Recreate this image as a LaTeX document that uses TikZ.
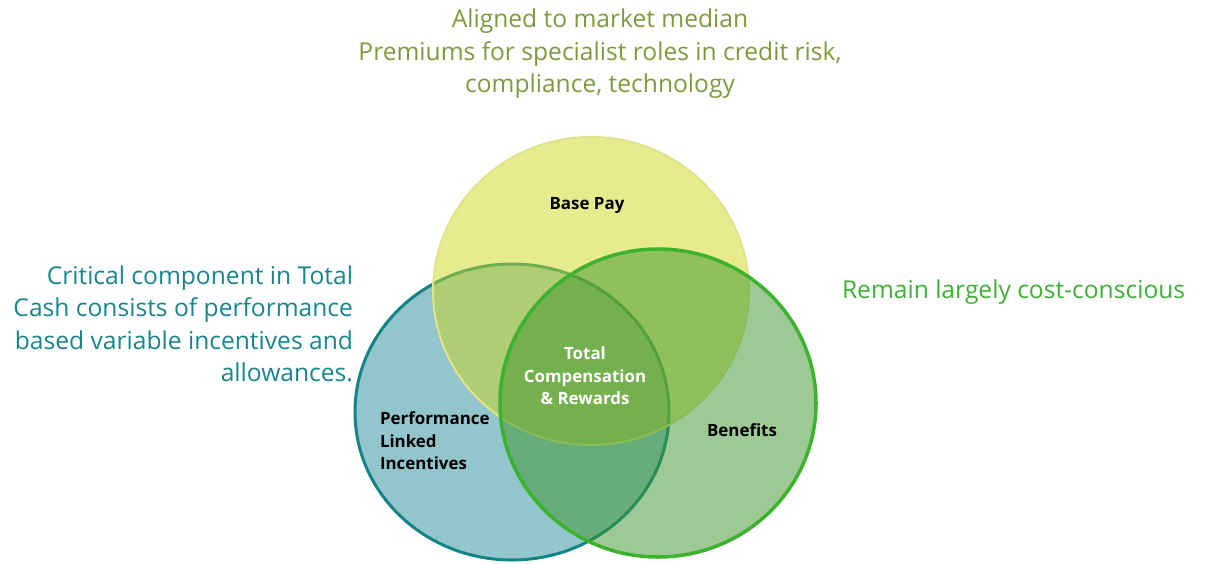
\documentclass[tikz,border=0pt]{standalone}
\usepackage{fontspec}
\setmainfont{Open Sans}
\definecolor{perfFill}{HTML}{278D99}
\definecolor{perfLine}{HTML}{158489}
\definecolor{baseFill}{HTML}{CDD71D}
\definecolor{baseLine}{HTML}{DFE38B}
\definecolor{benFill}{HTML}{3B9529}
\definecolor{benLine}{HTML}{3DB22F}
\definecolor{oliveTxt}{HTML}{7E9A3C}
\definecolor{tealTxt}{HTML}{17868C}
\definecolor{greenTxt}{HTML}{3DB134}
\begin{document}
\begin{tikzpicture}[x=1pt,y=-1pt,
  every node/.style={inner sep=0pt, outer sep=0pt},
  note/.style={font=\fontsize{24.6}{32.5}\selectfont},
  lbl/.style={font=\bfseries\fontsize{16.9}{22.5}\selectfont},
  ring/.style={fill opacity=0.5, draw opacity=1}]
\useasboundingbox (0,0) rectangle (1207,563);

% the three overlapping areas, back to front
\draw[ring, fill=perfFill, draw=perfLine, line width=3pt]
  (512,412) ellipse [x radius=157pt, y radius=148pt];
\draw[ring, fill=baseFill, draw=baseLine, line width=2pt]
  (591,291) ellipse [x radius=158pt, y radius=154pt];
\draw[ring, fill=benFill, draw=benLine, line width=3.5pt]
  (658,403) ellipse [x radius=158pt, y radius=154pt];

% labels inside the areas
\node[lbl] (base) at (587,205) {Base Pay};
\node[lbl, align=left, anchor=west] (perf) at (380,441) {Performance\\Linked\\Incentives};
\node[lbl] (ben) at (742,430) {Benefits};
\node[lbl, align=center, text=white] (total) at (585,376) {Total\\Compensation\\\& Rewards};

% notes around the diagram
\node[note, align=center, text=oliveTxt] (baseNote) at (600,54)
  {Aligned to market median\\Premiums for specialist roles in credit risk,\\compliance, technology};
\node[note, align=right, anchor=east, text=tealTxt] (perfNote) at (353,324)
  {Critical component in Total\\Cash consists of performance\\based variable incentives and\\allowances.};
\node[note, anchor=west, text=greenTxt] (benNote) at (842,292) {Remain largely cost-conscious};
\end{tikzpicture}
\end{document}
